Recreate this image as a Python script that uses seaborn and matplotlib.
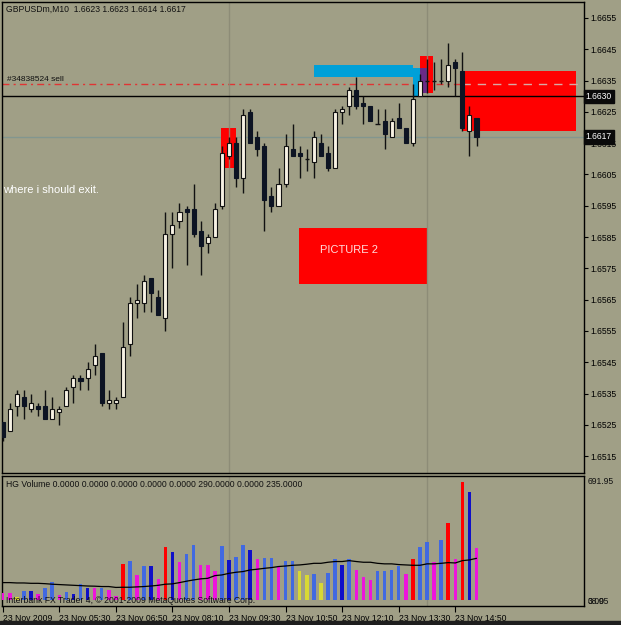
import matplotlib
matplotlib.use("Agg")
import matplotlib.pyplot as plt
import matplotlib.transforms as mtransforms
from matplotlib.patches import Rectangle
import numpy as np
import pandas as pd
import seaborn as sns

# GBPUSDm M10, 23 Nov 2009, 68 bars starting 04:10
opens = [1.6526, 1.6523, 1.6531, 1.6534, 1.6530, 1.6531, 1.6531, 1.6527, 1.6529, 1.6531,
         1.6537, 1.6540, 1.6540, 1.6544, 1.6548, 1.6532, 1.6532, 1.6534, 1.6551, 1.6564,
         1.6564, 1.6572, 1.6566, 1.6559, 1.6586, 1.6590, 1.6594, 1.6594, 1.6587, 1.6583,
         1.6585, 1.6595, 1.6611, 1.6615, 1.6604, 1.6625, 1.6617, 1.6614, 1.6598, 1.6595,
         1.6602, 1.6613, 1.6612, 1.6610, 1.6609, 1.6615, 1.6612, 1.6607, 1.6625, 1.6627,
         1.6632, 1.6628, 1.6627, 1.6621, 1.6622, 1.6617, 1.6623, 1.6620, 1.6615, 1.6630,
         1.6635, 1.6635, 1.6635, 1.6635, 1.6641, 1.6638, 1.6619, 1.6623]
highs = [1.6526, 1.6532, 1.6536, 1.6536, 1.6535, 1.6532, 1.6536, 1.6534, 1.6531, 1.6537,
         1.6541, 1.6541, 1.6545, 1.6551, 1.6548, 1.6536, 1.6534, 1.6558, 1.6566, 1.6570,
         1.6573, 1.6572, 1.6568, 1.6593, 1.6593, 1.6596, 1.6595, 1.6602, 1.6590, 1.6586,
         1.6596, 1.6614, 1.6617, 1.6617, 1.6626, 1.6626, 1.6619, 1.6615, 1.6601, 1.6607,
         1.6618, 1.6621, 1.6614, 1.6613, 1.6619, 1.6618, 1.6614, 1.6626, 1.6627, 1.6633,
         1.6636, 1.6630, 1.6627, 1.6626, 1.6626, 1.6623, 1.6628, 1.6620, 1.6634, 1.6637,
         1.6642, 1.6641, 1.6642, 1.6647, 1.6642, 1.6644, 1.6627, 1.6623]
lows = [1.6520, 1.6523, 1.6528, 1.6527, 1.6529, 1.6528, 1.6527, 1.6527, 1.6525, 1.6531,
        1.6532, 1.6536, 1.6536, 1.6541, 1.6531, 1.6530, 1.6530, 1.6534, 1.6547, 1.6559,
        1.6561, 1.6561, 1.6560, 1.6555, 1.6575, 1.6588, 1.6576, 1.6585, 1.6573, 1.6580,
        1.6585, 1.6594, 1.6610, 1.6601, 1.6599, 1.6615, 1.6611, 1.6587, 1.6593, 1.6595,
        1.6601, 1.6611, 1.6604, 1.6606, 1.6604, 1.6611, 1.6606, 1.6607, 1.6621, 1.6624,
        1.6626, 1.6621, 1.6622, 1.6621, 1.6613, 1.6617, 1.6620, 1.6615, 1.6614, 1.6630,
        1.6631, 1.6632, 1.6634, 1.6633, 1.6630, 1.6619, 1.6611, 1.6614]
closes = [1.6521, 1.6530, 1.6535, 1.6531, 1.6532, 1.6530, 1.6527, 1.6530, 1.6530, 1.6536,
          1.6540, 1.6539, 1.6543, 1.6547, 1.6532, 1.6533, 1.6533, 1.6550, 1.6564, 1.6565,
          1.6571, 1.6567, 1.6560, 1.6586, 1.6589, 1.6593, 1.6593, 1.6586, 1.6582, 1.6585,
          1.6594, 1.6612, 1.6615, 1.6604, 1.6624, 1.6615, 1.6613, 1.6597, 1.6595, 1.6602,
          1.6614, 1.6611, 1.6611, 1.6610, 1.6617, 1.6611, 1.6607, 1.6625, 1.6626, 1.6632,
          1.6627, 1.6627, 1.6622, 1.6621, 1.6618, 1.6622, 1.6620, 1.6615, 1.6629, 1.6635,
          1.6635, 1.6635, 1.6635, 1.6640, 1.6639, 1.6620, 1.6624, 1.6617]

# HG Volume histogram (value + buffer kind) and its moving average
volumes = [37, 37, 15, 52, 52, 34, 69, 103, 28, 43,
           32, 88, 69, 69, 69, 56, 24, 202, 220, 140,
           190, 190, 118, 299, 267, 211, 256, 308, 196, 196,
           162, 304, 224, 241, 308, 280, 228, 237, 237, 183,
           218, 220, 162, 140, 146, 97, 149, 230, 196, 230,
           168, 127, 112, 162, 162, 168, 190, 146, 228, 295,
           327, 213, 336, 429, 228, 663, 603, 293]
vol_kind = list("mmybdmbbmb" "dbdmbmmrbm" "bdmrdmbbmm" "mbdbbdmbbm"
                "bbyybybbdb" "mmmbbbbmrb" "bmbrmrdm")
vol_ma = [97, 97, 95, 95, 93, 93, 91, 88, 86, 84,
          82, 80, 78, 77, 75, 75, 70, 71, 71, 73,
          75, 78, 82, 88, 90, 97, 105, 112, 118, 121,
          136, 140, 149, 155, 159, 168, 172, 177, 181, 187,
          190, 194, 196, 200, 205, 205, 211, 215, 215, 220,
          215, 211, 211, 205, 202, 202, 198, 196, 194, 194,
          202, 202, 205, 209, 207, 220, 224, 233]

price_ticks = [1.6515 + 0.001 * k for k in range(15)]
order_price = 1.6634
line_price = 1.6630
bid_price = 1.6617
separators = [32, 60]

BG = "#a09f86"
DARK = "#0d1423"
CREAM = "#f7f2e4"
kind_colors = {"m": "#ee14dc", "b": "#4169e1", "d": "#1010c8", "r": "#ff0000", "y": "#d8d834"}

sns.set_style("ticks")
plt.rcParams["font.family"] = ["Liberation Sans", "DejaVu Sans"]
plt.rcParams["axes.linewidth"] = 1.0

df = pd.DataFrame({"open": opens, "high": highs, "low": lows, "close": closes,
                   "volume": volumes, "kind": vol_kind, "ma": vol_ma})
df["bar"] = np.arange(len(df))
df["time"] = pd.date_range("2009-11-23 04:10", periods=len(df), freq="10min")

W, H = 621, 625
fig = plt.figure(figsize=(W / 100, H / 100), dpi=100)
fig.patch.set_facecolor(BG)
ax = fig.add_axes([2 / W, 1 - 473 / H, 582 / W, 471 / H])
axv = fig.add_axes([2 / W, 1 - 606 / H, 582 / W, 130 / H], sharex=ax)
for a in (ax, axv):
    a.set_facecolor(BG)
    for s in a.spines.values():
        s.set_color("black")
        s.set_linewidth(1)

ax.set_xlim(-0.1, 82.2)
ax.set_ylim(1.650963, 1.666011)

# user objects
ax.add_patch(Rectangle((44.0, 1.6636), 14.0, 0.0004, color="#00a0d8", lw=0, zorder=2))
ax.add_patch(Rectangle((58.0, 1.6630), 1.0, 0.0009, color="#00a0d8", lw=0, zorder=2))
ax.add_patch(Rectangle((59.0, 1.6631), 1.9, 0.0012, color="#ff0000", lw=0, zorder=2))
ax.add_patch(Rectangle((59.0, 1.6631), 1.0, 0.0008, color="#6a2a86", lw=0, zorder=2.1))
ax.add_patch(Rectangle((30.9, 1.6607), 2.1, 0.0013, color="#ff0000", lw=0, zorder=2))
ax.add_patch(Rectangle((65.0, 1.6619), 16.0, 0.0019, color="#ff0000", lw=0, zorder=2))
ax.add_patch(Rectangle((41.9, 1.6570), 18.1, 0.0018, color="#ff0000", lw=0, zorder=2))
ax.text(49.0, 1.6581, "PICTURE 2", color="#ffdede", fontsize=8, ha="center", va="center", zorder=3)

# separators
for sep in separators:
    for a in (ax, axv):
        a.axvline(sep, color="#8a8975", lw=1, alpha=0.85, zorder=2.5)

# horizontal lines
ax.plot([-0.1, 65.0], [order_price, order_price], color="#e03434", lw=1,
        dashes=(5, 3, 1.5, 3), zorder=1.5)
ax.plot([65.0, 82.2], [order_price, order_price], color="#d8a9a4", lw=1,
        dashes=(6, 5), zorder=3)
ax.axhline(line_price, color="black", lw=1, zorder=3)
ax.axhline(bid_price, color="#82968f", lw=1, zorder=1.5)

# candles
up = df.close > df.open
dn = df.close < df.open
flat = df.close == df.open
ax.vlines(df.bar, df.low, df.high, color="#111111", lw=1, zorder=4)
ax.bar(df.bar[up], (df.close - df.open)[up], bottom=df.open[up], width=0.58,
       color=CREAM, edgecolor="#111111", lw=0.8, zorder=5)
ax.bar(df.bar[dn], (df.open - df.close)[dn], bottom=df.close[dn], width=0.58,
       color=DARK, edgecolor=DARK, lw=0.8, zorder=5)
ax.hlines(df.close[flat], df.bar[flat] - 0.3, df.bar[flat] + 0.3, color="#111111", lw=1, zorder=5)

# price axis
ax.yaxis.tick_right()
ax.set_yticks(price_ticks)
ax.set_yticklabels([f"{p:.4f}" for p in price_ticks])
ax.tick_params(axis="y", direction="out", length=3, width=0.8, pad=1.5, labelsize=6.2,
               colors="black")
ax.tick_params(axis="x", bottom=False, labelbottom=False)
yt = mtransforms.blended_transform_factory(ax.transAxes, ax.transData)
for p in (line_price, bid_price):
    ax.text(1.003, p, f"{p:.4f}", transform=yt, color="white", fontsize=6.2, va="center",
            ha="left", clip_on=False, zorder=10,
            bbox=dict(boxstyle="square,pad=0.25", fc="#0a0a0a", ec="#0a0a0a"))

ax.text(0.007, 0.985, "GBPUSDm,M10  1.6623 1.6623 1.6614 1.6617", transform=ax.transAxes,
        fontsize=6.2, va="center", ha="left", color="#111111")
ax.text(0.6, 1.66352, "#34838524 sell", fontsize=6, va="center", ha="left", color="#111111")
ax.text(0.0, 1.66, "where i should exit.", fontsize=8, va="center", ha="left", color="white")

# volume panel
colors = [kind_colors[k] for k in df.kind]
axv.bar(df.bar, df.volume, width=0.5, color=colors, lw=0, zorder=3)
sns.lineplot(x=df.bar, y=df.ma, ax=axv, color="black", lw=0.9, zorder=4)
axv.set_ylim(-34, 694)
axv.set_ylabel("")
axv.set_xlabel("")
axv.set_yticks([])
tick_bars = df.bar[::8]
axv.set_xticks(tick_bars)
labels = [df.time[0].strftime("%d %b %Y")] + [t.strftime("%d %b %H:%M") for t in df.time[8::8]]
axv.set_xticklabels(labels, ha="left")
axv.tick_params(axis="x", direction="out", length=4, width=0.8, pad=1.5, labelsize=6.2,
                colors="black")
axv.text(0.007, 0.938, "HG Volume 0.0000 0.0000 0.0000 0.0000 0.0000 290.0000 0.0000 235.0000",
         transform=axv.transAxes, fontsize=6.2, va="center", ha="left", color="#111111")
axv.text(0.007, 0.042, "Interbank FX Trader 4, \u00a9 2001-2009 MetaQuotes Software Corp.",
         transform=axv.transAxes, fontsize=6.2, va="center", ha="left", color="#111111", zorder=6)
axv.text(1.007, 0.954, "691.95", transform=axv.transAxes, fontsize=6.2, va="center",
         ha="left", color="#111111")
# two scale labels drawn on top of each other, as in the terminal
axv.text(1.007, 0.038, "0.00", transform=axv.transAxes, fontsize=6.2, va="center",
         ha="left", color="#111111")
axv.text(1.007, 0.038, "38.95", transform=axv.transAxes, fontsize=6.2, va="center",
         ha="left", color="#111111")

fig.add_artist(Rectangle((0, 0), 1, 4 / H, transform=fig.transFigure, color="#1e1e1e"))

fig.savefig("out.png", dpi=100, facecolor=BG)
